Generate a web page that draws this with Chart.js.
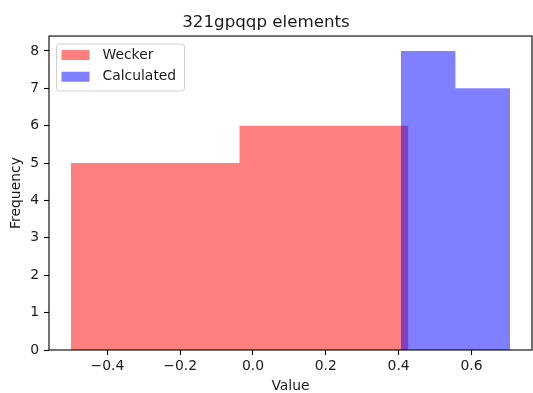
<!DOCTYPE html>
<html>
<head>
<meta charset="utf-8">
<script src="https://cdn.jsdelivr.net/npm/chart.js@4/dist/chart.umd.min.js"></script>
<style>
  html, body { margin: 0; padding: 0; background: #fff; }
  #wrap { width: 533px; height: 393px; }
</style>
</head>
<body>
<div id="wrap"><canvas id="hist"></canvas></div>
<script>
// histogram bins: edges and counts per series
const weckerEdges = [-0.5, -0.037, 0.427];
const weckerCounts = [5, 6];
const calcEdges = [0.406, 0.556, 0.706];
const calcCounts = [8, 7];

const xTickValues = [-0.4, -0.2, 0.0, 0.2, 0.4, 0.6];
const yTickValues = [0, 1, 2, 3, 4, 5, 6, 7, 8];

const FONT = "'DejaVu Sans', sans-serif";
const TEXT = '#1a1a1a';

// turn bin edges + counts into a closed step outline for a filled line
function stepPoints(edges, counts) {
    var pts = [{ x: edges[0], y: 0 }];
    for (var i = 0; i < counts.length; i++) {
        pts.push({ x: edges[i], y: counts[i] });
    }
    pts.push({ x: edges[edges.length - 1], y: 0 });
    return pts;
}

// x limits with 5% margin like matplotlib autoscale
var lo = Math.min(weckerEdges[0], calcEdges[0]);
var hi = Math.max(weckerEdges[weckerEdges.length - 1], calcEdges[calcEdges.length - 1]);
var pad = (hi - lo) * 0.05;

// four-sided frame around the plot area
const framePlugin = {
    id: 'frame',
    afterDatasetsDraw(chart) {
        const a = chart.chartArea;
        const ctx = chart.ctx;
        ctx.save();
        ctx.strokeStyle = '#000';
        ctx.lineWidth = 1.1;
        ctx.strokeRect(a.left, a.top, a.right - a.left, a.bottom - a.top);
        ctx.restore();
    }
};

// legend box inside the upper left corner
const insideLegend = {
    id: 'insideLegend',
    afterDraw(chart) {
        const a = chart.chartArea;
        const ctx = chart.ctx;
        const x = a.left + 7.5, y = a.top + 8;
        ctx.save();
        ctx.beginPath();
        ctx.roundRect(x, y, 128, 47, 3);
        ctx.fillStyle = 'rgba(255,255,255,0.8)';
        ctx.fill();
        ctx.strokeStyle = '#d0d0d0';
        ctx.lineWidth = 1;
        ctx.stroke();
        ctx.font = '13.9px ' + FONT;
        ctx.textBaseline = 'middle';
        chart.data.datasets.forEach(function (ds, i) {
            var ry = y + 6 + i * 21.7;
            ctx.fillStyle = ds.backgroundColor;
            ctx.fillRect(x + 5, ry, 28, 10);
            ctx.fillStyle = TEXT;
            ctx.fillText(ds.label, x + 46, ry + 5);
        });
        ctx.restore();
    }
};

new Chart(document.getElementById('hist'), {
    type: 'line',
    data: {
        datasets: [
            {
                label: 'Wecker',
                data: stepPoints(weckerEdges, weckerCounts),
                backgroundColor: 'rgba(255,0,0,0.5)',
                borderWidth: 0,
                pointRadius: 0,
                stepped: 'before',
                fill: 'origin',
                order: 1
            },
            {
                label: 'Calculated',
                data: stepPoints(calcEdges, calcCounts),
                backgroundColor: 'rgba(0,0,255,0.5)',
                borderWidth: 0,
                pointRadius: 0,
                stepped: 'before',
                fill: 'origin',
                order: 0
            }
        ]
    },
    options: {
        responsive: true,
        maintainAspectRatio: false,
        animation: false,
        events: [],
        layout: { padding: { left: 0, right: 1, top: 0, bottom: 0 } },
        plugins: {
            legend: { display: false },
            tooltip: { enabled: false },
            title: {
                display: true,
                text: '321gpqqp elements',
                color: TEXT,
                font: { family: FONT, size: 16.7, weight: 'normal' },
                padding: { top: 13, bottom: 3 }
            }
        },
        scales: {
            x: {
                type: 'linear',
                min: lo - pad,
                max: hi + pad,
                afterBuildTicks: function (scale) {
                    scale.ticks = xTickValues.map(function (v) { return { value: v }; });
                },
                afterFit: function (scale) { scale.height = 43; },
                ticks: {
                    color: TEXT,
                    font: { family: FONT, size: 13.9 },
                    padding: 3,
                    maxRotation: 0,
                    callback: function (v) { return v.toFixed(1).replace('-', '\u2212'); }
                },
                grid: { drawOnChartArea: false, drawTicks: true, tickLength: 5, tickColor: '#000', tickWidth: 1.1 },
                border: { display: false },
                title: {
                    display: true,
                    text: 'Value',
                    color: TEXT,
                    font: { family: FONT, size: 13.9, lineHeight: 1.0 },
                    padding: { top: 0, bottom: 0 }
                }
            },
            y: {
                type: 'linear',
                min: 0,
                max: 8.4,
                afterBuildTicks: function (scale) {
                    scale.ticks = yTickValues.map(function (v) { return { value: v }; });
                },
                afterFit: function (scale) { scale.width = 49; },
                ticks: {
                    color: TEXT,
                    font: { family: FONT, size: 13.9 },
                    padding: 5,
                    callback: function (v) { return String(v); }
                },
                grid: { drawOnChartArea: false, drawTicks: true, tickLength: 5, tickColor: '#000', tickWidth: 1.1 },
                border: { display: false },
                title: {
                    display: true,
                    text: 'Frequency',
                    color: TEXT,
                    font: { family: FONT, size: 13.9 },
                    padding: { top: 8, bottom: 0 }
                }
            }
        }
    },
    plugins: [framePlugin, insideLegend]
});
</script>
</body>
</html>
